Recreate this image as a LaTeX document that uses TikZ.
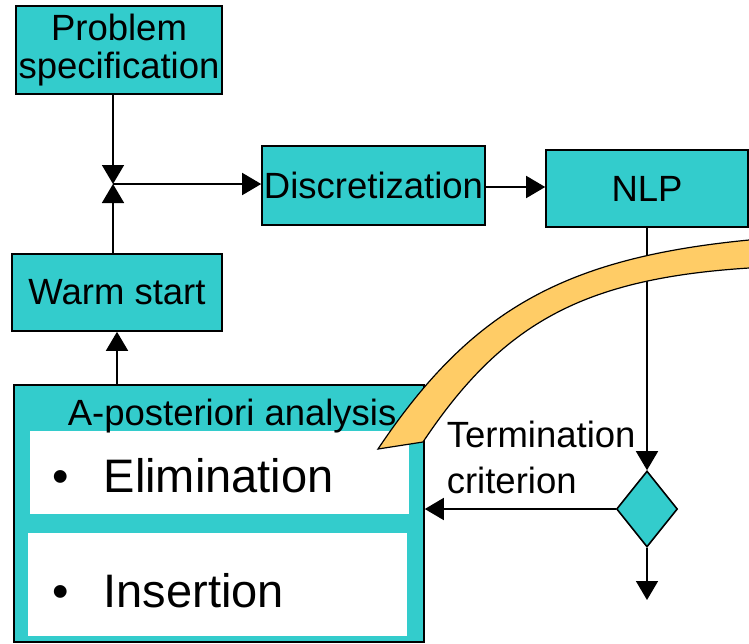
\documentclass[tikz,border=0pt]{standalone}
\usepackage{fontspec}
\setmainfont{Liberation Sans}
\usetikzlibrary{shapes.geometric,arrows.meta}

\definecolor{boxteal}{HTML}{33CCCC}
\definecolor{bandyellow}{HTML}{FFCC66}

\begin{document}
\begin{tikzpicture}[x=1pt, y=-1pt, line width=1.6pt,
    block/.style={rectangle, draw, fill=boxteal, inner sep=0pt,
      font=\fontsize{36.5}{38}\selectfont, align=center},
    panel/.style={rectangle, fill=white, inner sep=0pt},
    txt/.style={inner sep=0pt, font=\fontsize{36.5}{46}\selectfont},
    item/.style={anchor=base west, inner sep=0pt, font=\fontsize{47}{50}\selectfont},
    >={Triangle[length=19pt,width=22pt]}]
    \useasboundingbox (0,0) rectangle (749,643);

    \node[block, minimum width=206pt, minimum height=88pt] (spec) at (119,50) {Problem\\specification};
    \node[block, minimum width=223pt, minimum height=79pt] (disc) at (373.5,185.5) {Discretization};
    \node[block, minimum width=202pt, minimum height=77pt] (nlp) at (647,188.5) {NLP};
    \node[block, minimum width=210pt, minimum height=77pt] (warm) at (117,292.5) {Warm start};
    \node[block, minimum width=410pt, minimum height=257pt] (post) at (219,513.5) {};
    \node[panel, minimum width=379pt, minimum height=83pt] (elim) at (219.5,472.5) {};
    \node[panel, minimum width=379pt, minimum height=103pt] (ins) at (217.5,584.5) {};
    \node[diamond, draw, fill=boxteal, minimum width=61pt, minimum height=76pt, inner sep=0pt] (check) at (647,509) {};

    \node[txt, anchor=base west] (posttitle) at (67,425) {A-posteriori analysis};
    \node[item] (elimtxt) at (52,492) {\textbullet\hspace{34.5pt}Elimination};
    \node[item] (instxt) at (52,607) {\textbullet\hspace{34.5pt}Insertion};
    \node[txt, anchor=north west, align=left] (crit) at (446,420) {Termination\\criterion};

    \coordinate (join) at (113,184);
    \coordinate (done) at (647,600);

    % main loop
    \draw[->] (spec.south -| join) -- (join);
    \draw[->] (warm.north -| join) -- (join);
    \draw[->] (join) -- (join -| disc.west);
    \draw[->] (disc.east |- 0,187) -- (nlp.west |- 0,187);
    \draw[->] (nlp.south -| check.north) -- (check.north);
    \draw[->] (check.west) -- (check.west -| post.east);
    \draw[->] (check.south) -- (done);
    \draw[->] (warm.south |- post.north) -- (warm.south);

    % curved band over the loop
    \filldraw[fill=bandyellow, draw=black, line width=1.2pt]
      (378,449) .. controls (471,310) and (564,258) .. (749,240) -- (760,239)
      -- (760,268) -- (749,268) .. controls (584.5,278.5) and (503,322) .. (423,442) -- cycle;
\end{tikzpicture}
\end{document}
